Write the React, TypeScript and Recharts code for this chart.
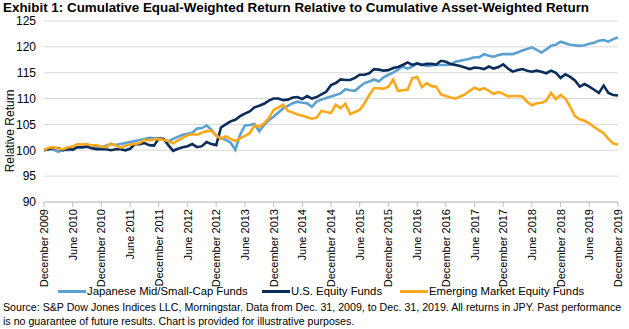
import React from 'react';
import { LineChart, Line, XAxis, YAxis, CartesianGrid } from 'recharts';

// monthly, Dec 2009 .. Dec 2019
const japanMidSmall = [
  100.0, 100.3, 100.1, 99.7, 100.2, 100.0, 100.4, 100.6, 100.5, 100.8, 100.7, 100.6,
  100.6, 100.9, 101.2, 101.0, 101.2, 101.4, 101.6, 101.8, 102.0, 102.2, 102.4, 102.3,
  102.3, 102.1, 101.7, 102.2, 102.6, 103.0, 103.2, 103.4, 104.2, 104.3, 104.8, 104.0,
  102.8, 102.4, 102.0, 101.5, 100.1, 103.0, 104.8, 104.9, 105.1, 103.7, 104.9, 105.8,
  106.5, 107.3, 108.1, 108.6, 109.1, 109.4, 109.2, 109.1, 108.4, 109.4, 109.8, 110.1,
  110.4, 110.7, 111.0, 111.8, 111.6, 111.5, 112.3, 113.0, 113.3, 113.7, 113.3, 114.1,
  114.6, 115.0, 115.6, 116.2, 115.8, 116.2, 116.8, 116.6, 116.3, 116.4, 116.5, 116.5,
  116.5, 116.6, 117.1, 117.3, 117.5, 117.7, 118.0, 118.0, 118.6, 118.3, 118.1, 118.4,
  118.6, 118.6, 118.6, 118.9, 119.3, 119.6, 119.9, 119.4, 118.9, 119.5, 120.2, 120.4,
  121.0, 120.7, 120.4, 120.3, 120.2, 120.3, 120.6, 120.8, 121.2, 121.3, 121.0, 121.5,
  121.8,
];

const usEquity = [
  100.0, 100.2, 100.5, 100.4, 100.0, 100.3, 100.1, 100.6, 100.6, 100.7, 100.4, 100.2,
  100.2, 100.2, 100.0, 100.2, 100.2, 100.0, 100.3, 101.2, 101.2, 101.4, 101.0, 100.9,
  102.3, 102.2, 101.0, 99.9, 100.3, 100.6, 100.8, 101.2, 100.6, 100.8, 101.6, 101.2,
  101.0, 104.4, 105.0, 105.6, 105.9, 106.6, 107.1, 107.5, 108.3, 108.6, 109.0, 109.6,
  110.0, 110.0, 109.7, 109.8, 110.2, 110.3, 109.9, 110.5, 110.0, 110.3, 110.8, 111.3,
  112.6, 113.0, 113.7, 113.6, 113.6, 114.0, 114.6, 114.6, 114.9, 115.7, 115.6, 115.4,
  115.5, 115.9, 116.1, 116.5, 117.0, 116.5, 116.8, 116.5, 116.7, 116.7, 116.6, 117.3,
  117.1, 116.7, 116.5, 116.3, 116.0, 115.7, 116.0, 115.9, 115.7, 116.2, 115.8, 116.1,
  116.6, 115.8, 115.2, 115.5, 115.7, 115.4, 115.2, 115.4, 115.2, 114.9, 115.4, 115.0,
  114.0, 114.7, 114.2, 113.5, 112.3, 112.8, 112.3, 111.7, 111.1, 112.5, 111.1, 110.7,
  110.6,
];

const emergingMarkets = [
  100.0, 100.5, 100.6, 100.3, 100.2, 100.6, 100.7, 101.2, 101.1, 101.2, 100.9, 101.0,
  100.7, 100.6, 101.3, 100.9, 100.5, 100.9, 101.1, 101.2, 101.4, 102.0, 101.9, 102.1,
  102.2, 102.0, 101.8, 101.3, 101.9, 102.4, 102.9, 103.1, 103.0, 103.4, 103.7, 103.8,
  102.9, 102.2, 102.7, 102.2, 101.8, 102.3, 102.8, 103.3, 104.8, 104.6, 105.2, 106.2,
  107.8, 108.3, 108.8, 107.6, 107.3, 106.9, 106.7, 106.4, 106.1, 106.3, 107.6, 107.4,
  107.2, 108.8, 108.1, 109.0, 107.0, 107.4, 107.8, 109.1, 110.7, 112.0, 112.0, 111.9,
  112.3, 113.7, 111.5, 111.6, 111.7, 113.9, 114.2, 112.2, 113.0, 112.4, 112.3, 110.8,
  110.5, 110.2, 110.0, 110.4, 110.8, 111.5, 112.1, 111.7, 112.0, 111.5, 110.9, 111.3,
  110.9, 110.4, 110.5, 110.5, 110.4, 109.4, 108.7, 109.1, 109.2, 109.6, 111.1, 109.9,
  110.7, 110.0, 108.4, 106.6, 106.0, 105.7, 105.2, 104.5, 103.9, 103.3, 102.2, 101.3,
  101.1,
];

const xTicks = [0, 6, 12, 18, 24, 30, 36, 42, 48, 54, 60, 66, 72, 78, 84, 90, 96, 102, 108, 114, 120];
const xTickLabels = [
  'December 2009', 'June 2010', 'December 2010', 'June 2011', 'December 2011', 'June 2012',
  'December 2012', 'June 2013', 'December 2013', 'June 2014', 'December 2014', 'June 2015',
  'December 2015', 'June 2016', 'December 2016', 'June 2017', 'December 2017', 'June 2018',
  'December 2018', 'June 2019', 'December 2019',
];
const yTicks = [90, 95, 100, 105, 110, 115, 120, 125];

const series = [
  { key: 'japan', name: 'Japanese Mid/Small-Cap Funds', color: '#5AA0D2' },
  { key: 'us', name: 'U.S. Equity Funds', color: '#0B2D5B' },
  { key: 'em', name: 'Emerging Market Equity Funds', color: '#FBA81B' },
];
const legendLeft = [58, 262, 400];

const data = japanMidSmall.map((v, i) => ({
  m: i,
  japan: v,
  us: usEquity[i],
  em: emergingMarkets[i],
}));

const FONT = '"Liberation Sans", Arial, sans-serif';

const XTick = (props: any) => {
  const { x, y, payload } = props;
  const label = xTickLabels[xTicks.indexOf(payload.value)] ?? '';
  return (
    <g transform={`translate(${x},${y})`}>
      <text x={0} y={4} transform="rotate(-90)" textAnchor="end" fontSize={11} fill="#000" fontFamily={FONT}>
        {label}
      </text>
    </g>
  );
};

export default function App() {
  return (
    <div style={{ position: 'fixed', left: 0, top: 0, width: 629, height: 329, background: '#fff', fontFamily: FONT, color: '#000' }}>
      <div style={{ position: 'absolute', left: 3, top: 0, fontSize: 13.4, fontWeight: 'bold', whiteSpace: 'nowrap', lineHeight: '16px' }}>
        Exhibit 1: Cumulative Equal-Weighted Return Relative to Cumulative Asset-Weighted Return
      </div>
      <div style={{ position: 'absolute', left: 0, top: 0 }}>
        <LineChart width={629} height={290} data={data} margin={{ top: 21, right: 11, bottom: 0, left: 0 }}>
          <CartesianGrid vertical={false} stroke="#D9D9D9" />
          <XAxis
            type="number"
            dataKey="m"
            domain={[0, 120]}
            ticks={xTicks}
            interval={0}
            height={88}
            tick={<XTick />}
            tickSize={5}
            tickMargin={2}
            stroke="#BFBFBF"
          />
          <YAxis
            domain={[90, 125]}
            ticks={yTicks}
            width={44}
            axisLine={false}
            tickLine={false}
            tick={{ fontSize: 12, fill: '#000', fontFamily: FONT }}
          />
          {series.map((s) => (
            <Line
              key={s.key}
              type="linear"
              dataKey={s.key}
              name={s.name}
              stroke={s.color}
              strokeWidth={2.6}
              dot={false}
              isAnimationActive={false}
            />
          ))}
        </LineChart>
      </div>
      <div style={{ position: 'absolute', left: 10, top: 131, fontSize: 12, whiteSpace: 'nowrap', transform: 'translate(-50%, -50%) rotate(-90deg)' }}>
        Relative Return
      </div>
      {series.map((s, i) => (
        <div key={s.key} style={{ position: 'absolute', left: legendLeft[i], top: 284, height: 14, display: 'flex', alignItems: 'center', fontSize: 11.3, whiteSpace: 'nowrap' }}>
          <span style={{ display: 'inline-block', width: 28, height: 3, background: s.color, marginRight: 1 }} />
          <span>{s.name}</span>
        </div>
      ))}
      <div style={{ position: 'absolute', left: 3, top: 300, fontSize: 10.65, lineHeight: '14px', whiteSpace: 'nowrap' }}>
        Source: S&amp;P Dow Jones Indices LLC, Morningstar. Data from Dec. 31, 2009, to Dec. 31, 2019. All returns in JPY. Past performance
        <br />
        is no guarantee of future results. Chart is provided for illustrative purposes.
      </div>
    </div>
  );
}
